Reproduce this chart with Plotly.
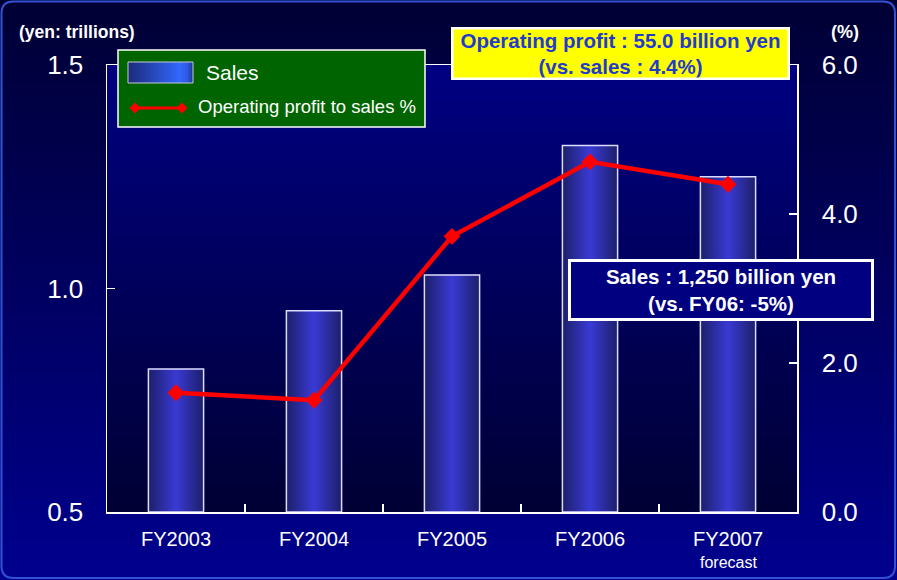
import plotly.graph_objects as go

# ---- data ---------------------------------------------------------------
categories = ["FY2003", "FY2004", "FY2005", "FY2006", "FY2007"]
category_notes = ["", "", "", "", "forecast"]
sales_trillion_yen = [0.82, 0.95, 1.03, 1.32, 1.25]
op_margin_pct = [1.6, 1.5, 3.7, 4.7, 4.4]
sales_ticks = [0.5, 1.0, 1.5]
margin_ticks = [0.0, 2.0, 4.0, 6.0]

# ---- geometry (pixels) ----------------------------------------------------
W, H = 897, 580
PX0, PX1 = 107, 797          # plot area left / right
PY0, PY1 = 65, 512           # plot area top / bottom
BAR_W = 0.4
FONT = "Arial, 'Liberation Sans', sans-serif"


def fx(x):
    return x / W


def fy(y):
    return 1 - y / H


def mix(c1, c2, t):
    a = [int(c1[i:i + 2], 16) for i in (1, 3, 5)]
    b = [int(c2[i:i + 2], 16) for i in (1, 3, 5)]
    return "#" + "".join(f"{round(p + (q - p) * t):02x}" for p, q in zip(a, b))


def color_at(stops, t):
    for (t0, c0), (t1, c1) in zip(stops, stops[1:]):
        if t0 <= t <= t1:
            return mix(c0, c1, (t - t0) / (t1 - t0) if t1 > t0 else 0)
    return stops[-1][1]


def gradient_strips(x0, y0, x1, y1, stops, n, vertical=True, layer="below"):
    """Approximate a linear gradient over a pixel rectangle with thin rects."""
    out = []
    for k in range(n):
        t = (k + 0.5) / n
        c = color_at(stops, t)
        if vertical:
            a = y0 + (y1 - y0) * k / n
            b = y0 + (y1 - y0) * (k + 1) / n + 0.6
            rect = (x0, a, x1, min(b, y1))
        else:
            a = x0 + (x1 - x0) * k / n
            b = x0 + (x1 - x0) * (k + 1) / n + 0.6
            rect = (a, y0, min(b, x1), y1)
        out.append(dict(type="rect", xref="paper", yref="paper", layer=layer,
                        x0=fx(rect[0]), x1=fx(rect[2]),
                        y0=fy(rect[3]), y1=fy(rect[1]),
                        line=dict(width=0), fillcolor=c))
    return out


def rounded_rect_path(x0, y0, x1, y1, r):
    pts = [
        ("M", x0 + r, y0), ("L", x1 - r, y0), ("Q", x1, y0, x1, y0 + r),
        ("L", x1, y1 - r), ("Q", x1, y1, x1 - r, y1),
        ("L", x0 + r, y1), ("Q", x0, y1, x0, y1 - r),
        ("L", x0, y0 + r), ("Q", x0, y0, x0 + r, y0),
    ]
    parts = []
    for p in pts:
        cmd, coords = p[0], p[1:]
        xy = []
        for i in range(0, len(coords), 2):
            xy.append(f"{fx(coords[i]):.5f},{fy(coords[i + 1]):.5f}")
        parts.append(cmd + " ".join(xy))
    return " ".join(parts) + " Z"


def diamond_path(cx, cy, h):
    return (f"M{fx(cx - h):.5f},{fy(cy):.5f} L{fx(cx):.5f},{fy(cy - h):.5f} "
            f"L{fx(cx + h):.5f},{fy(cy):.5f} L{fx(cx):.5f},{fy(cy + h):.5f} Z")


fig = go.Figure()

# ---- sales bars: filled outlines with a horizontal gradient ----------------
base = sales_ticks[0]
for i, v in enumerate(sales_trillion_yen):
    left, right = i - BAR_W / 2, i + BAR_W / 2
    fig.add_trace(go.Scatter(
        x=[left, left, right, right, left],
        y=[base, v, v, base, base],
        mode="lines", fill="toself",
        line=dict(color="#dcdcff", width=1.5),
        fillgradient=dict(type="horizontal", start=left, stop=right,
                          colorscale=[[0, "#1c1f6a"], [0.5, "#3a3ad4"], [1, "#1c1f6a"]]),
        hoverinfo="skip", showlegend=False, xaxis="x", yaxis="y",
    ))

# ---- operating margin line ------------------------------------------------
fig.add_trace(go.Scatter(
    x=list(range(len(categories))), y=op_margin_pct,
    mode="lines+markers",
    line=dict(color="#ff0000", width=4.5),
    marker=dict(symbol="diamond", size=13, color="#ff0000"),
    showlegend=False, xaxis="x", yaxis="y2",
))

# ---- background -----------------------------------------------------------
shapes = []
shapes += gradient_strips(0, 0, W, H, [(0, "#000034"), (1, "#00008e")], 70)
shapes += gradient_strips(PX0, PY0, PX1, PY1, [(0, "#000082"), (1, "#000034")], 60)
shapes.append(dict(type="path", xref="paper", yref="paper", layer="below",
                   path=rounded_rect_path(1.5, 1.5, W - 2, H - 2, 12),
                   line=dict(color="#3352d0", width=2)))

# ---- legend box -----------------------------------------------------------
LG = (118, 50, 425, 127)
shapes.append(dict(type="rect", xref="paper", yref="paper", layer="above",
                   x0=fx(LG[0]), x1=fx(LG[2]), y0=fy(LG[3]), y1=fy(LG[1]),
                   fillcolor="#006400", line=dict(color="#ffffff", width=1.5)))
shapes += gradient_strips(128, 62, 193, 83,
                          [(0, "#1c2a7a"), (0.8, "#3468ff"), (0.92, "#2e58e0"), (1, "#1f3590")],
                          40, vertical=False, layer="above")
shapes.append(dict(type="rect", xref="paper", yref="paper", layer="above",
                   x0=fx(128), x1=fx(193), y0=fy(83), y1=fy(62),
                   line=dict(color="#c8c8d8", width=1)))
shapes.append(dict(type="line", xref="paper", yref="paper", layer="above",
                   x0=fx(135), x1=fx(182), y0=fy(108), y1=fy(108),
                   line=dict(color="#ff0000", width=3)))
for cx in (135, 182):
    shapes.append(dict(type="path", xref="paper", yref="paper", layer="above",
                       path=diamond_path(cx, 108, 5.5),
                       fillcolor="#ff0000", line=dict(width=0)))

annotations = [
    dict(text="Sales", x=fx(204), y=fy(73), xanchor="left", yanchor="middle",
         font=dict(family=FONT, size=21, color="white")),
    dict(text="Operating profit to sales %", x=fx(196), y=fy(107),
         xanchor="left", yanchor="middle",
         font=dict(family=FONT, size=18.5, color="white")),
    dict(text="(yen: trillions)", x=fx(17), y=fy(32), xanchor="left", yanchor="middle",
         font=dict(family=FONT, size=17.5, color="white", weight="bold")),
    dict(text="(%)", x=fx(845), y=fy(32), xanchor="center", yanchor="middle",
         font=dict(family=FONT, size=18, color="white", weight="bold")),
    dict(text="Operating profit : 55.0 billion yen<br>(vs. sales : 4.4%)",
         x=fx(620), y=fy(53.5), xanchor="center", yanchor="middle",
         width=334, height=48, borderpad=0, borderwidth=2.5,
         bgcolor="#ffff00", bordercolor="#ffffff",
         font=dict(family=FONT, size=20.5, color="#1f3ccc", weight="bold")),
    dict(text="Sales : 1,250 billion yen<br>(vs. FY06: -5%)",
         x=fx(721), y=fy(290), xanchor="center", yanchor="middle",
         width=300, height=56, borderpad=0, borderwidth=3,
         bgcolor="#000080", bordercolor="#ffffff",
         font=dict(family=FONT, size=20.5, color="#ffffff", weight="bold")),
]
for a in annotations:
    a.update(xref="paper", yref="paper", showarrow=False)

# small second-line notes under category labels (e.g. "forecast")
for i, note in enumerate(category_notes):
    if note:
        annotations.append(dict(
            text=note, x=i, xref="x", y=fy(562), yref="paper",
            xanchor="center", yanchor="middle", showarrow=False,
            font=dict(family=FONT, size=16, color="white")))

fig.update_layout(
    width=W, height=H,
    margin=dict(l=0, r=0, t=0, b=0, autoexpand=False),
    paper_bgcolor="#000034", plot_bgcolor="rgba(0,0,0,0)",
    showlegend=False,
    shapes=shapes, annotations=annotations,
    font=dict(family=FONT, color="white"),
    xaxis=dict(
        domain=[fx(PX0), fx(PX1)], range=[-0.5, len(categories) - 0.5],
        tickmode="array", tickvals=list(range(len(categories))), ticktext=categories,
        ticks="", showgrid=False, zeroline=False, automargin=False,
        showline=True, mirror=True, linecolor="white", linewidth=1.5,
        tickfont=dict(family=FONT, size=20, color="white"),
        ticklabelstandoff=8,
        minor=dict(tickmode="array",
                   tickvals=[i + 0.5 for i in range(len(categories) - 1)],
                   ticks="inside", ticklen=8, tickcolor="white", tickwidth=1.2),
        fixedrange=True,
    ),
    yaxis=dict(
        domain=[fy(PY1), fy(PY0)], range=[sales_ticks[0], sales_ticks[-1]],
        tickmode="array", tickvals=sales_ticks,
        ticktext=[f"{v:.1f}" for v in sales_ticks],
        ticks="inside", ticklen=8, tickcolor="white", tickwidth=1.2,
        showgrid=False, zeroline=False, automargin=False,
        showline=True, mirror=True, linecolor="white", linewidth=1.5,
        tickfont=dict(family=FONT, size=26, color="white"),
        ticklabelstandoff=17, fixedrange=True,
    ),
    yaxis2=dict(
        overlaying="y", side="right",
        range=[margin_ticks[0], margin_ticks[-1]],
        tickmode="array", tickvals=margin_ticks,
        ticktext=[f"{v:.1f}" for v in margin_ticks],
        ticks="inside", ticklen=8, tickcolor="white", tickwidth=1.2,
        showgrid=False, zeroline=False, automargin=False,
        showline=True, linecolor="white", linewidth=1.5,
        tickfont=dict(family=FONT, size=26, color="white"),
        ticklabelstandoff=18, fixedrange=True,
    ),
)

fig.write_html("out.html", config={"displayModeBar": False, "staticPlot": True})
